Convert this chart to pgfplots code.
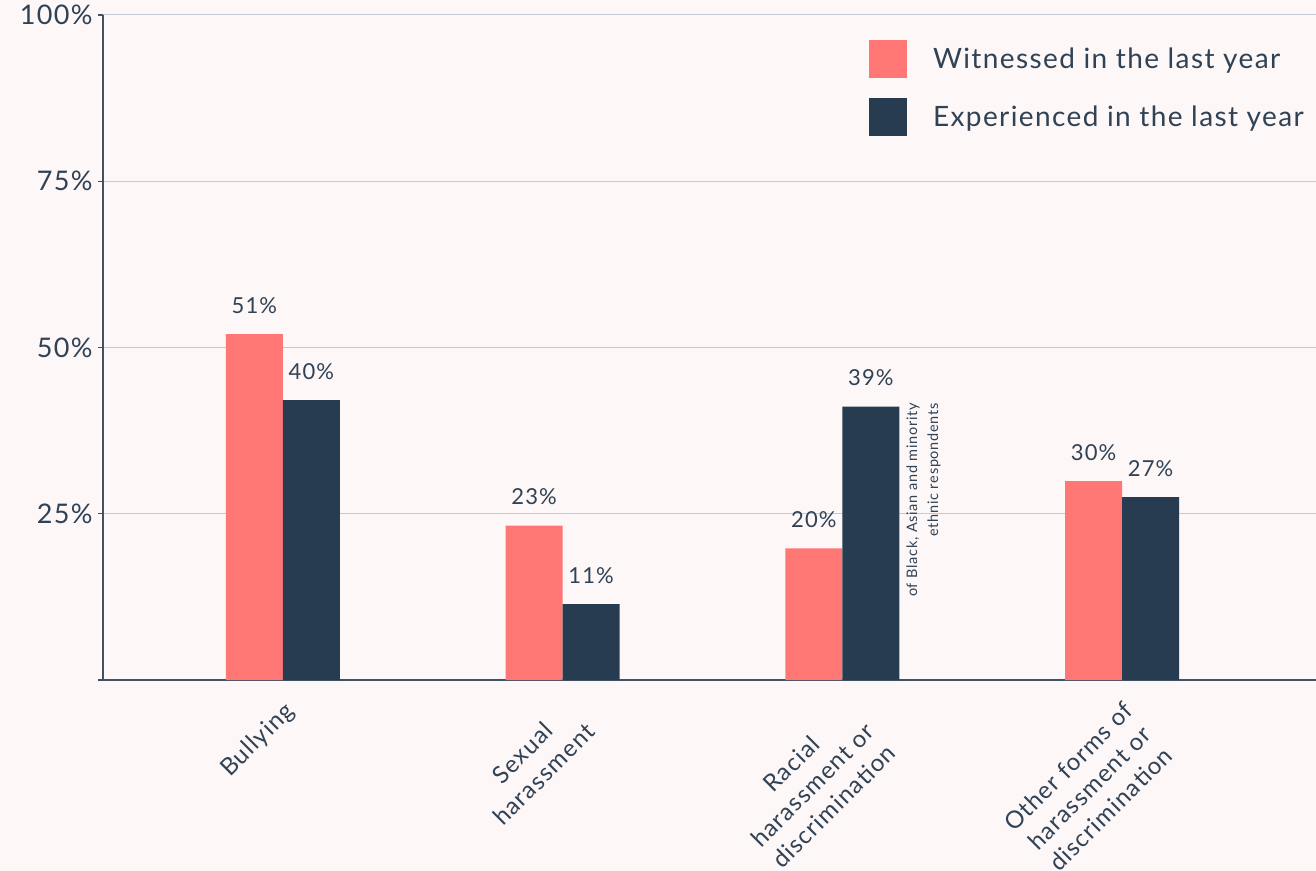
\documentclass[border=0pt]{standalone}
\usepackage{pgfplots}
\pgfplotsset{compat=1.18}
\usepackage{fontspec}
\setmainfont{Lato}[LetterSpace=5]
\definecolor{bg}{HTML}{FDF7F7}
\definecolor{wit}{HTML}{FF7775}
\definecolor{expc}{HTML}{283C51}
\definecolor{txt}{HTML}{2F4256}
\definecolor{axiscol}{HTML}{3F5266}
\definecolor{gridcol}{HTML}{C6C9CF}
\begin{document}
\begin{tikzpicture}
\path[use as bounding box] (-103bp,-191bp) rectangle (1213bp,680bp);
\fill[bg] (-103bp,-191bp) rectangle (1213bp,680bp);
\begin{axis}[
  at={(0,0)}, anchor=south west,
  scale only axis, width=1213bp, height=665bp,
  xmin=-0.6429, xmax=3.6929, ymin=0, ymax=100,
  axis lines*=left,
  axis line style={color=axiscol, line width=1.3bp},
  ybar=0pt, bar width=57bp,
  xtick={0,1,2,3},
  xticklabels={Bullying,{Sexual\\harassment},{Racial\\harassment or\\discrimination},{Other forms of\\harassment or\\discrimination}},
  xtick style={draw=none},
  xticklabel style={font=\fontsize{24bp}{30bp}\selectfont, text=txt, align=center, xshift=0bp, yshift=-10bp, rotate=45, anchor=north east},
  ytick={0,25,50,75,100},
  yticklabels={,25\%,50\%,75\%,100\%},
  tick align=outside, major tick length=5bp,
  ytick style={color=axiscol, line width=1.3bp},
  yticklabel style={font=\fontsize{27bp}{32bp}\selectfont, text=txt, xshift=-2bp},
  ymajorgrids, grid style={color=gridcol, line width=1bp},
  point meta=explicit symbolic,
  nodes near coords={\pgfplotspointmeta},
  nodes near coords style={font=\fontsize{22bp}{28bp}\selectfont, text=txt, anchor=base, inner sep=0, yshift=21bp},
  legend style={at={(rel axis cs:0.6315,0.9624)}, anchor=north west, draw=none, fill=none, inner sep=0pt, outer sep=0pt, row sep=20bp, column sep=26bp, font=\fontsize{28bp}{32bp}\selectfont, text=txt, nodes={inner sep=0pt}},
  legend cell align=left,
]
\addplot[fill=wit, draw=none, legend image code/.code={\fill[wit] (0bp,-19bp) rectangle (38bp,19bp);}]
  coordinates {(0,52) [51\%] (1,23.2) [23\%] (2,19.8) [20\%] (3,29.9) [30\%]};
\addlegendentry{Witnessed in the last year}
\addplot[fill=expc, draw=none, legend image code/.code={\fill[expc] (0bp,-19bp) rectangle (38bp,19bp);}]
  coordinates {(0,42.1) [40\%] (1,11.4) [11\%] (2,41.1) [39\%] (3,27.5) [27\%]};
\addlegendentry{Experienced in the last year}
\node[rotate=90, anchor=north east, align=right, font=\fontsize{14.5bp}{21bp}\selectfont, text=txt, inner sep=0pt] at (axis cs:2.2286,41.65) {of Black, Asian and minority\\ethnic respondents};
\end{axis}
\end{tikzpicture}
\end{document}
